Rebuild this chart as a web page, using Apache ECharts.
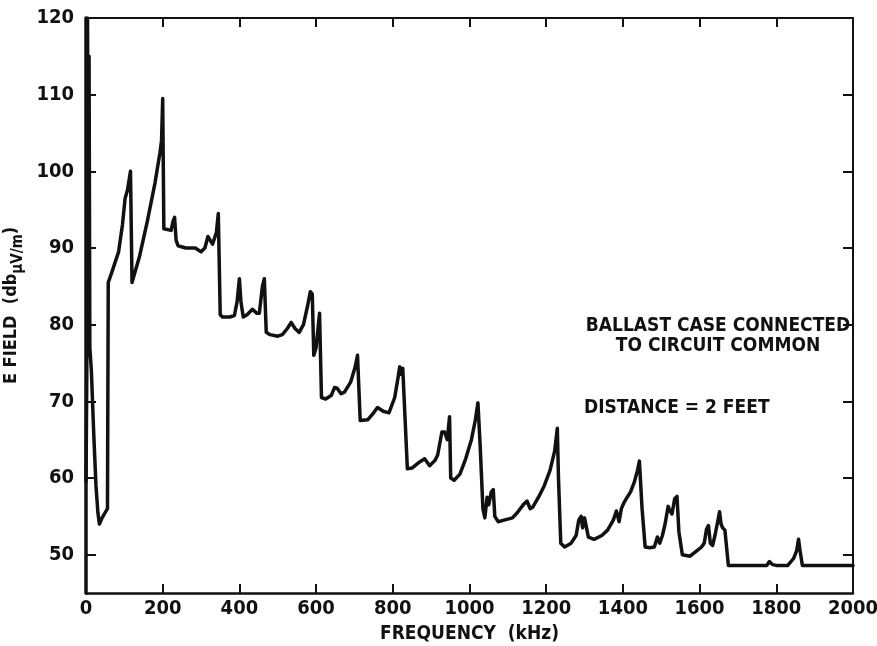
<!DOCTYPE html>
<html><head><meta charset="utf-8">
<script src="https://cdn.jsdelivr.net/npm/echarts@6/dist/echarts.min.js"></script>
<style>html,body{margin:0;padding:0;background:#fff}#c{width:877px;height:646px}</style>
</head><body><div id="c"></div>
<script>
const freqKHz = [0,1,2,4,6,8,10,14,20,26,31,35,42,50,56,58,65,75,85,95,102,108,116,120,140,160,180,193,197,200,203,222,227,231,235,240,260,285,300,310,318,324,330,340,345,350,356,375,387,394,400,404,410,420,434,445,452,460,465,470,480,500,512,525,535,545,556,567,578,585,590,594,600,606,609,614,625,640,648,655,665,674,690,702,708,715,735,750,760,775,790,805,815,818,822,826,838,850,870,883,896,910,917,928,935,942,948,951,960,975,990,1005,1015,1022,1028,1035,1040,1046,1050,1057,1062,1066,1075,1090,1112,1125,1140,1150,1158,1165,1180,1195,1210,1222,1229,1232,1238,1248,1265,1278,1285,1291,1295,1300,1305,1310,1325,1345,1360,1375,1383,1390,1396,1403,1409,1420,1430,1438,1443,1450,1458,1470,1482,1490,1496,1503,1510,1518,1522,1528,1535,1541,1546,1555,1575,1590,1605,1612,1618,1623,1628,1634,1640,1646,1652,1656,1660,1666,1675,1700,1775,1782,1790,1800,1830,1845,1853,1858,1862,1868,1900,2000];
const eFieldDb = [59.5,66,73,120,76,115,77,74,66,59,55.5,54,54.8,55.5,56,85.5,86.5,88,89.5,93,96.5,97.5,100,85.5,89,93.5,98.5,102.5,104,109.5,92.5,92.3,93.5,94,91,90.3,90,90,89.5,90,91.5,91,90.5,92,94.5,81.3,81,81,81.2,83,86,83,81,81.3,82,81.5,81.5,85,86,79,78.7,78.5,78.7,79.5,80.3,79.5,79,80,82.5,84.3,84,76,77,80,81.5,70.5,70.3,70.8,71.8,71.7,71,71.2,72.5,74.5,76,67.5,67.6,68.5,69.2,68.7,68.5,70.5,73.5,74.5,73.5,74.3,61.2,61.3,62.1,62.5,61.6,62.3,63,66,66,65,68,60,59.7,60.5,62.5,65,67.5,69.8,64,56,54.8,57.5,56.5,58.2,58.5,55,54.3,54.5,54.8,55.5,56.5,57,56,56.2,57.5,59,61,63.5,66.5,60,51.5,51,51.5,52.5,54.5,55,53.5,54.8,55,52.3,52,52.5,53.2,54.5,55.7,54.3,56,56.8,57.3,58.2,59.5,61,62.2,56,51,50.9,51,52.3,51.5,52.5,54,56.3,55.8,55.3,57.3,57.6,53,50,49.8,50.4,51,51.5,53.3,53.8,51.5,51.2,52.5,54,55.6,54,53.5,53.2,48.6,48.6,48.6,49.1,48.7,48.6,48.6,49.5,50.5,52,50.5,48.6,48.6,48.6];
const xTickValues = [0,200,400,600,800,1000,1200,1400,1600,1800,2000];
const yTickValues = [50,60,70,80,90,100,110,120];
const xAxisTitle = 'FREQUENCY  (kHz)';
const yAxisTitleParts = ['E FIELD  (db', 'μV/m', ')'];
const noteLine1 = 'BALLAST CASE CONNECTED';
const noteLine2 = 'TO CIRCUIT COMMON';
const noteLine3 = 'DISTANCE = 2 FEET';

const FONT = "'Liberation Sans Narrow','DejaVu Sans Condensed','Roboto Condensed',sans-serif";
const INK = '#111';
const chart = echarts.init(document.getElementById('c'), null, {renderer:'canvas'});
const lbl = {fontFamily:FONT, fontWeight:'bold', fontSize:20, color:INK, formatter:v=>String(v)};
function frameAxis(extra){
  return Object.assign({
    axisLine:{show:true, onZero:false, lineStyle:{color:INK, width:2.5}},
    axisTick:{show:true, inside:true, length:9, lineStyle:{color:INK, width:2}},
    splitLine:{show:false}
  }, extra);
}
chart.setOption({
  animation:false,
  backgroundColor:'#fff',
  grid:{left:86, right:24, top:18, bottom:53, containLabel:false, outerBoundsMode:'none'},
  xAxis:[
    frameAxis({type:'value', position:'bottom', min:0, max:2000, interval:200,
      axisLabel:Object.assign({margin:6, customValues:xTickValues}, lbl),
      axisTick:{show:true, inside:true, length:9, customValues:xTickValues, lineStyle:{color:INK,width:2}},
      name:xAxisTitle, nameLocation:'middle', nameGap:32,
      nameTextStyle:{fontFamily:FONT, fontWeight:'bold', fontSize:19, color:INK}}),
    frameAxis({type:'value', position:'top', min:0, max:2000, interval:200,
      axisLabel:{show:false}, axisLine:{show:true,onZero:false,lineStyle:{color:INK,width:2}}})
  ],
  yAxis:[
    frameAxis({type:'value', position:'left', min:45, max:120,
      axisLine:{show:true,onZero:false,lineStyle:{color:INK,width:3.5}},
      axisTick:{show:true, inside:true, length:10, customValues:yTickValues, lineStyle:{color:INK,width:2}},
      axisLabel:Object.assign({margin:12, customValues:yTickValues}, lbl),
      name:'{a|'+yAxisTitleParts[0]+'}{b|'+yAxisTitleParts[1]+'}{a|'+yAxisTitleParts[2]+'}',
      nameLocation:'middle', nameGap:54, nameRotate:90,
      nameTextStyle:{rich:{
        a:{fontFamily:FONT, fontWeight:'bold', fontSize:18, color:INK, lineHeight:22},
        b:{fontFamily:FONT, fontWeight:'bold', fontSize:15, color:INK, lineHeight:22, padding:[14,0,0,0]}
      }}}),
    frameAxis({type:'value', position:'right', min:45, max:120,
      axisTick:{show:true, inside:true, length:10, customValues:yTickValues, lineStyle:{color:INK,width:2}},
      axisLabel:{show:false}, axisLine:{show:true,onZero:false,lineStyle:{color:INK,width:2}}})
  ],
  series:[{
    type:'line', xAxisIndex:0, yAxisIndex:0,
    data:freqKHz.map((f,i)=>[f,eFieldDb[i]]),
    showSymbol:false, smooth:false,
    lineStyle:{color:INK, width:3.5, join:'round', cap:'round'}
  }],
  graphic:[
    {type:'text', x:718, y:326, style:{text:noteLine1, fill:INK, font:"bold 19px "+FONT, align:'center', verticalAlign:'middle'}},
    {type:'text', x:718, y:346, style:{text:noteLine2, fill:INK, font:"bold 19px "+FONT, align:'center', verticalAlign:'middle'}},
    {type:'text', x:584, y:408, style:{text:noteLine3, fill:INK, font:"bold 19px "+FONT, align:'left', verticalAlign:'middle'}}
  ]
});
</script></body></html>
